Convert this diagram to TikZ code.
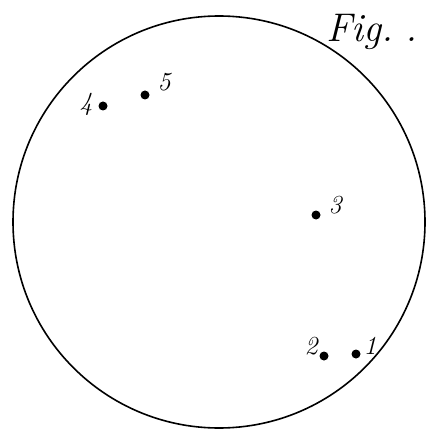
\documentclass[tikz,border=0pt]{standalone}
\usepackage{fontspec}
\setmainfont{Latin Modern Roman}
\begin{document}
\begin{tikzpicture}[x=1pt,y=-1pt,
  spot/.style={circle,fill=black,inner sep=0pt,minimum size=9pt},
  lab/.style={font=\fontsize{26}{26}\selectfont\itshape,inner sep=0pt}]
\useasboundingbox (0,0) rectangle (435,446);
\node[circle,draw,line width=1.6pt,minimum size=412pt,inner sep=0pt] (disc) at (219,222) {};
\node[spot] (p1) at (356,354) {};
\node[spot] (p2) at (324,356) {};
\node[spot] (p3) at (316,215) {};
\node[spot] (p4) at (103,106) {};
\node[spot] (p5) at (145,95) {};
\node[lab] (l1) at (370,346) {1};
\node[lab] (l2) at (311,346) {2};
\node[lab] (l3) at (335,205) {3};
\node[lab] (l4) at (86,104) {4};
\node[lab] (l5) at (164,82) {5};
\node[font=\fontsize{40}{40}\selectfont\itshape,anchor=base west,inner sep=0pt] (fig) at (326,42) {Fig.\hspace{12pt}.};
\end{tikzpicture}
\end{document}
